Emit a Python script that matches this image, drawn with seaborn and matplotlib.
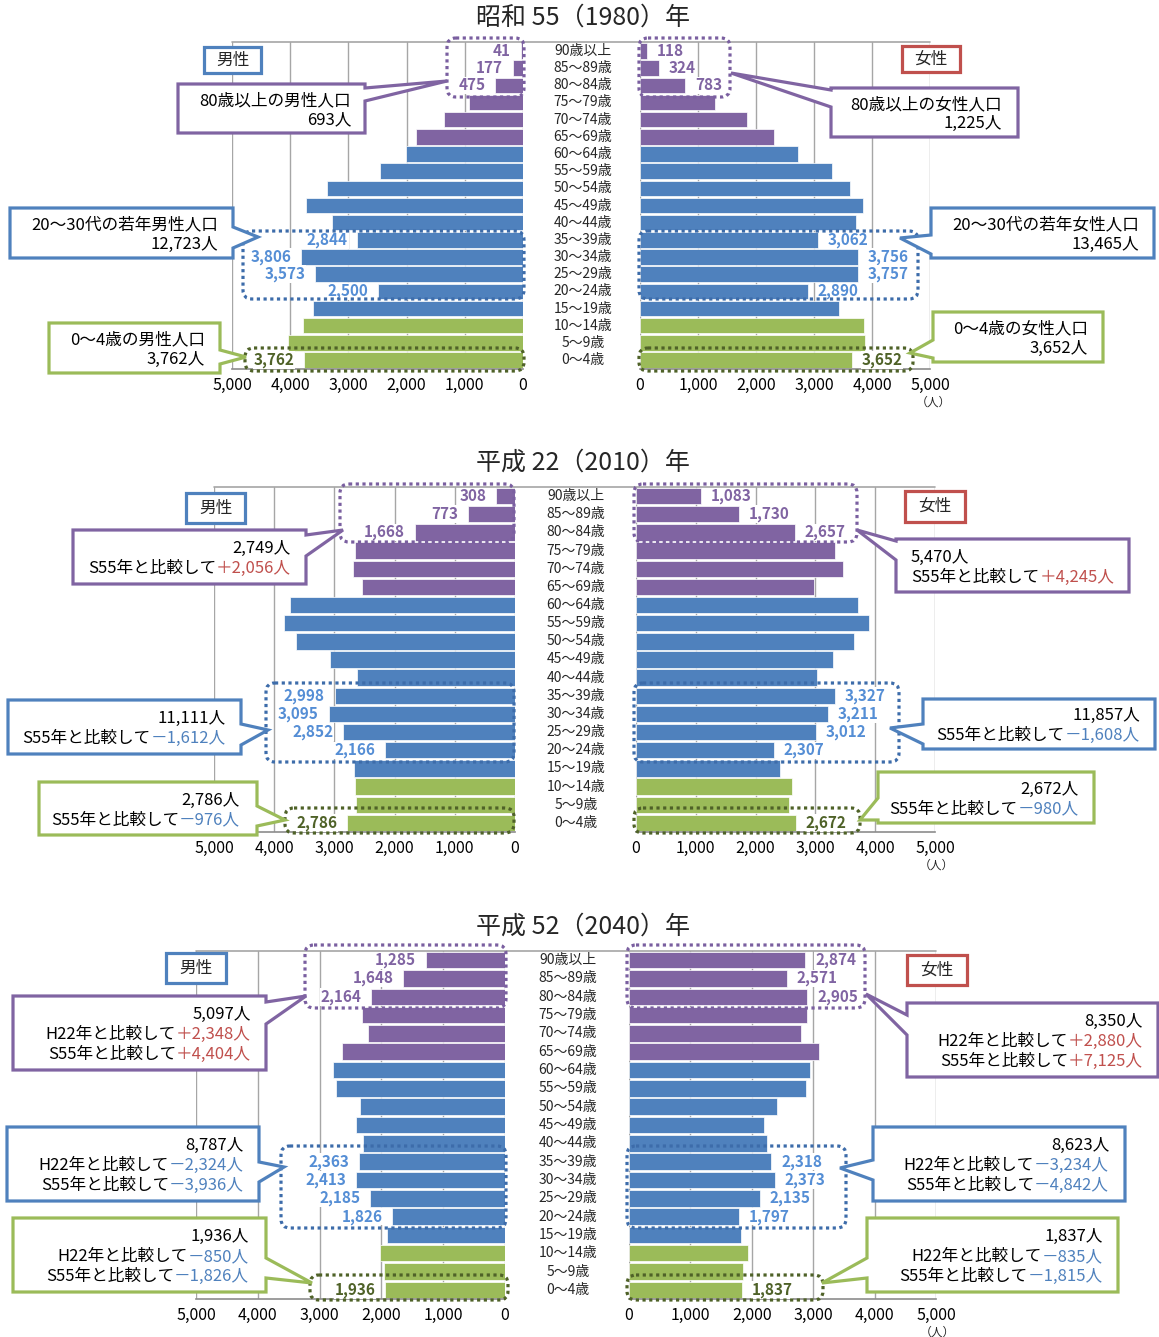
import matplotlib
matplotlib.use("Agg")
import matplotlib.pyplot as plt
import numpy as np
import pandas as pd
import seaborn as sns
from matplotlib.patches import Polygon, Rectangle, FancyBboxPatch
from matplotlib.transforms import Affine2D, blended_transform_factory
from matplotlib.lines import Line2D

# ---------------------------------------------------------------- data
AGES = ["90歳以上", "85～89歳", "80～84歳", "75～79歳", "70～74歳", "65～69歳",
        "60～64歳", "55～59歳", "50～54歳", "45～49歳", "40～44歳", "35～39歳",
        "30～34歳", "25～29歳", "20～24歳", "15～19歳", "10～14歳", "5～9歳", "0～4歳"]
BANDS = ["高齢"] * 6 + ["生産年齢"] * 10 + ["年少"] * 3

TITLES = ["昭和 55（1980）年", "平成 22（2010）年", "平成 52（2040）年"]

male_1980 = [41, 177, 475, 930, 1365, 1830, 2010, 2460, 3365, 3730, 3275,
             2844, 3806, 3573, 2500, 3600, 3780, 4045, 3762]
female_1980 = [118, 324, 783, 1295, 1850, 2310, 2725, 3315, 3615, 3850, 3725,
               3062, 3756, 3757, 2890, 3435, 3865, 3875, 3652]
male_2010 = [308, 773, 1668, 2655, 2690, 2535, 3735, 3830, 3640, 3065, 2625,
             2998, 3095, 2852, 2166, 2680, 2655, 2645, 2786]
female_2010 = [1083, 1730, 2657, 3330, 3460, 2980, 3710, 3895, 3650, 3295, 3020,
               3327, 3211, 3012, 2307, 2405, 2605, 2560, 2672]
male_2040 = [1285, 1648, 2164, 2320, 2220, 2640, 2780, 2740, 2350, 2415, 2300,
             2363, 2413, 2185, 1826, 1915, 2020, 1965, 1936]
female_2040 = [2874, 2571, 2905, 2900, 2800, 3100, 2940, 2875, 2405, 2195, 2245,
               2318, 2373, 2135, 1797, 1830, 1935, 1860, 1837]

TICKS = [0, 1000, 2000, 3000, 4000, 5000]

# rows that carry value labels, grouped by the summary they feed
OLD80 = [0, 1, 2]
YOUNG_ADULT = [11, 12, 13, 14]
INFANT = [18]

# ---------------------------------------------------------------- style
PALETTE = {"高齢": "#8064A2", "生産年齢": "#4F81BD", "年少": "#9BBB59"}
LABEL_COL = {"old": "#8064A2", "adult": "#558ED5", "infant": "#4F6228"}
EDGE_COL = {"old": "#8064A2", "adult": "#4F81BD", "infant": "#9BBB59"}
DOT_COL = {"old": "#7A5FA0", "adult": "#3D6CAA", "infant": "#4F6228"}
RED = "#C0504D"
BLUE_TXT = "#4F81BD"
GRID = "#A6A6A6"

sns.set_theme(style="white")
plt.rcParams["font.family"] = ["Noto Sans CJK JP", "DejaVu Sans"]

W, H = 1159, 1337
fig = plt.figure(figsize=(W / 100, H / 100), dpi=100)
fig.patch.set_facecolor("white")
PX = Affine2D().scale(1 / W, -1 / H).translate(0, 1) + fig.transFigure
renderer = fig.canvas.get_renderer()


def px_axes(l, r, t, b):
    return fig.add_axes([l / W, 1 - b / H, (r - l) / W, (b - t) / H])


def draw_side(ax, values, invert):
    df = pd.DataFrame({"age": AGES, "value": values, "band": BANDS})
    sns.barplot(data=df, x="value", y="age", hue="band",
                hue_order=list(PALETTE), palette=PALETTE, dodge=False,
                orient="h", width=0.9, saturation=1, legend=False,
                edgecolor="white", linewidth=0.5, ax=ax)
    if invert:
        ax.set_xlim(5000, 0)
    else:
        ax.set_xlim(0, 5000)
    ax.set_ylim(len(AGES) - 0.5, -0.5)
    ax.set_xticks(TICKS)
    ax.set_xticklabels([f"{t:,}" for t in TICKS], fontsize=11.5, color="black")
    ax.tick_params(axis="x", length=0, pad=6)
    ax.tick_params(axis="y", left=False, labelleft=False)
    ax.set_xlabel("")
    ax.set_ylabel("")
    ax.grid(axis="x", color=GRID, lw=1)
    ax.grid(axis="y", visible=False)
    ax.set_axisbelow(True)
    for s in ["left", "right", "top"]:
        ax.spines[s].set_visible(False)
    ax.spines["bottom"].set_color("#8C8C8C")
    ax.spines["bottom"].set_linewidth(1.2)
    ax.set_facecolor("none")

    sign = -1 if invert else 1
    for rows, key in [(OLD80, "old"), (YOUNG_ADULT, "adult"), (INFANT, "infant")]:
        for i in rows:
            v = values[i]
            ax.annotate(f"{v:,}", xy=(v, i), xytext=(7 * sign, 0),
                        textcoords="offset points",
                        ha="left" if sign > 0 else "right", va="center",
                        fontsize=11, fontweight="bold", color=LABEL_COL[key],
                        bbox=dict(boxstyle="square,pad=0.05", fc="white", ec="none"),
                        zorder=5)


def dotted_box(x0, y0, x1, y1, key):
    p = FancyBboxPatch((x0, y0), x1 - x0, y1 - y0,
                       boxstyle="round,pad=0,rounding_size=9",
                       transform=PX, fc="none", ec=DOT_COL[key], lw=2.3,
                       linestyle=(0, (1, 1.1)), zorder=2)
    fig.add_artist(p)


def bubble(box, side, base, tip, color):
    x0, y0, x1, y1 = box
    b1, b2 = base
    if side == "right":
        verts = [(x0, y0), (x1, y0), (x1, b1), tip, (x1, b2), (x1, y1), (x0, y1)]
    else:
        verts = [(x0, y0), (x1, y0), (x1, y1), (x0, y1), (x0, b2), tip, (x0, b1)]
    fig.add_artist(Polygon(verts, closed=True, transform=PX, fc="white",
                           ec=color, lw=2.3, joinstyle="miter", zorder=4))


def rich_line(x, y, parts, align="right", size=12):
    """Draw a line of differently coloured runs sharing one baseline."""
    if align == "right":
        cur = x
        for text, col in reversed(parts):
            t = fig.text(cur, y, text, transform=PX, ha="right", va="baseline",
                         color=col, fontsize=size, zorder=6)
            cur = t.get_window_extent(renderer).x0
    else:
        cur = x
        for text, col in parts:
            t = fig.text(cur, y, text, transform=PX, ha="left", va="baseline",
                         color=col, fontsize=size, zorder=6)
            cur = t.get_window_extent(renderer).x1


def bubble_text(box, lines, anchor_x, align="right", spacing=20):
    y0, y1 = box[1], box[3]
    mid = (y0 + y1) / 2
    n = len(lines)
    for k, parts in enumerate(lines):
        yc = mid + (k - (n - 1) / 2) * spacing
        rich_line(anchor_x, yc + 6, parts, align=align)


def tag_box(box, text, color):
    x0, y0, x1, y1 = box
    fig.add_artist(Rectangle((x0, y0), x1 - x0, y1 - y0, transform=PX,
                             fc="white", ec=color, lw=2.3, zorder=4))
    fig.text((x0 + x1) / 2, (y0 + y1) / 2, text, transform=PX, ha="center",
             va="center", fontsize=12, zorder=6)


def diff_part(d):
    if d >= 0:
        return (f"＋{d:,}人", RED)
    return (f"－{abs(d):,}人", BLUE_TXT)


# ---------------------------------------------------------------- layout
PANELS = [
    dict(m=male_1980, f=female_1980, ml=232, mr=523, fl=640, fr=930,
         top=42.4, bot=368.6, cx=583, ty=18, unit=(933, 402),
         men=(204, 47, 261, 73), women=(902, 46, 960, 72),
         dots=[(447, 38, 524, 97, "old"), (639, 38, 730, 97, "old"),
               (243, 231, 524, 299, "adult"), (639, 231, 918, 299, "adult"),
               (245, 348, 524, 371, "infant"), (639, 348, 913, 371, "infant")]),
    dict(m=male_2010, f=female_2010, ml=214, mr=515, fl=636, fr=935,
         top=487, bot=832, cx=576, ty=463, unit=(936, 865),
         men=(186, 493, 245, 523), women=(905, 491, 965, 522),
         dots=[(340, 484, 514, 542, "old"), (634, 484, 857, 542, "old"),
               (266, 683, 514, 762, "adult"), (634, 683, 899, 762, "adult"),
               (285, 808, 514, 833, "infant"), (634, 808, 860, 833, "infant")]),
    dict(m=male_2040, f=female_2040, ml=196, mr=505, fl=629, fr=936,
         top=951, bot=1299, cx=568, ty=927, unit=(937, 1332),
         men=(166, 953, 226, 983), women=(907, 955, 967, 985),
         dots=[(305, 945, 506, 1008, "old"), (627, 945, 865, 1008, "old"),
               (281, 1146, 506, 1228, "adult"), (627, 1146, 846, 1228, "adult"),
               (310, 1275, 508, 1300, "infant"), (627, 1275, 823, 1300, "infant")]),
]

for k, P in enumerate(PANELS):
    axm = px_axes(P["ml"], P["mr"], P["top"], P["bot"])
    axf = px_axes(P["fl"], P["fr"], P["top"], P["bot"])
    draw_side(axm, P["m"], invert=True)
    draw_side(axf, P["f"], invert=False)

    fig.add_artist(Line2D([P["ml"], P["fr"]], [P["top"], P["top"]], transform=PX,
                          color=GRID, lw=1.2, zorder=1))
    fig.text(583, P["ty"], TITLES[k], transform=PX, ha="center", va="center",
             fontsize=18)
    fig.text(P["unit"][0], P["unit"][1], "（人）", transform=PX, ha="center",
             va="center", fontsize=8.5)

    trans = blended_transform_factory(PX, axm.transData)
    for i, age in enumerate(AGES):
        fig.text(P["cx"], i, age, transform=trans, ha="center", va="center",
                 fontsize=10)

    for x0, y0, x1, y1, key in P["dots"]:
        dotted_box(x0, y0, x1, y1, key)

    tag_box(P["men"], "男性", "#4F81BD")
    tag_box(P["women"], "女性", RED)


def group_sum(vals, rows):
    return int(sum(vals[i] for i in rows))


sums = {}
for name, vals in [("m1980", male_1980), ("f1980", female_1980),
                   ("m2010", male_2010), ("f2010", female_2010),
                   ("m2040", male_2040), ("f2040", female_2040)]:
    sums[name] = {"old": group_sum(vals, OLD80),
                  "adult": group_sum(vals, YOUNG_ADULT),
                  "infant": group_sum(vals, INFANT)}

K = "black"

# ---- 1980 callouts
c = [
    ("m", "old", (178, 84, 365, 133), "right", (88, 101), (447, 81), 351, "80歳以上の男性人口"),
    ("f", "old", (831, 88, 1018, 137), "left", (90, 107), (731, 73), 1002, "80歳以上の女性人口"),
    ("m", "adult", (10, 208, 233, 258), "right", (227, 248), (258, 237), 218, "20～30代の若年男性人口"),
    ("f", "adult", (931, 208, 1154, 258), "left", (235, 254), (900, 238), 1139, "20～30代の若年女性人口"),
    ("m", "infant", (49, 323, 220, 373), "right", (350, 364), (246, 357), 205, "0～4歳の男性人口"),
    ("f", "infant", (933, 312, 1103, 362), "left", (340, 358), (910, 353), 1088, "0～4歳の女性人口"),
]
for sex, key, box, side, base, tip, ax_x, head in c:
    bubble(box, side, base, tip, EDGE_COL[key])
    total = sums[sex + "1980"][key]
    bubble_text(box, [[(head, K)], [(f"{total:,}人", K)]], ax_x, spacing=19)

# ---- 2010 callouts
c = [
    ("m", "old", (73, 530, 306, 584), "right", (535, 556), (343, 530), 291, "right"),
    ("f", "old", (896, 539, 1129, 592), "left", (541, 560), (857, 530), 911, "left"),
    ("m", "adult", (8, 700, 241, 754), "right", (724, 745), (268, 730), 226, "right"),
    ("f", "adult", (923, 699, 1155, 749), "left", (724, 744), (890, 728), 1140, "right"),
    ("m", "infant", (39, 782, 257, 835), "right", (806, 826), (285, 820), 240, "right"),
    ("f", "infant", (878, 772, 1094, 823), "left", (798, 820), (860, 820), 1079, "right"),
]
for sex, key, box, side, base, tip, ax_x, align in c:
    bubble(box, side, base, tip, EDGE_COL[key])
    now = sums[sex + "2010"][key]
    d80 = now - sums[sex + "1980"][key]
    lines = [[(f"{now:,}人", K)],
             [("S55年と比較して", K), diff_part(d80)]]
    bubble_text(box, lines, ax_x, align=align, spacing=20)

# ---- 2040 callouts
c = [
    ("m", "old", (13, 996, 266, 1070), "right", (1002, 1024), (306, 996), 251),
    ("f", "old", (907, 1003, 1158, 1077), "left", (1015, 1035), (866, 994), 1143),
    ("m", "adult", (7, 1127, 259, 1201), "right", (1162, 1182), (284, 1167), 244),
    ("f", "adult", (873, 1127, 1125, 1201), "left", (1160, 1180), (840, 1168), 1109),
    ("m", "infant", (13, 1218, 266, 1292), "right", (1258, 1278), (312, 1283), 249),
    ("f", "infant", (867, 1218, 1118, 1292), "left", (1258, 1278), (822, 1283), 1103),
]
for sex, key, box, side, base, tip, ax_x in c:
    bubble(box, side, base, tip, EDGE_COL[key])
    now = sums[sex + "2040"][key]
    d10 = now - sums[sex + "2010"][key]
    d80 = now - sums[sex + "1980"][key]
    lines = [[(f"{now:,}人", K)],
             [("H22年と比較して", K), diff_part(d10)],
             [("S55年と比較して", K), diff_part(d80)]]
    bubble_text(box, lines, ax_x, spacing=20)

fig.savefig("out.png", dpi=100, facecolor="white")
